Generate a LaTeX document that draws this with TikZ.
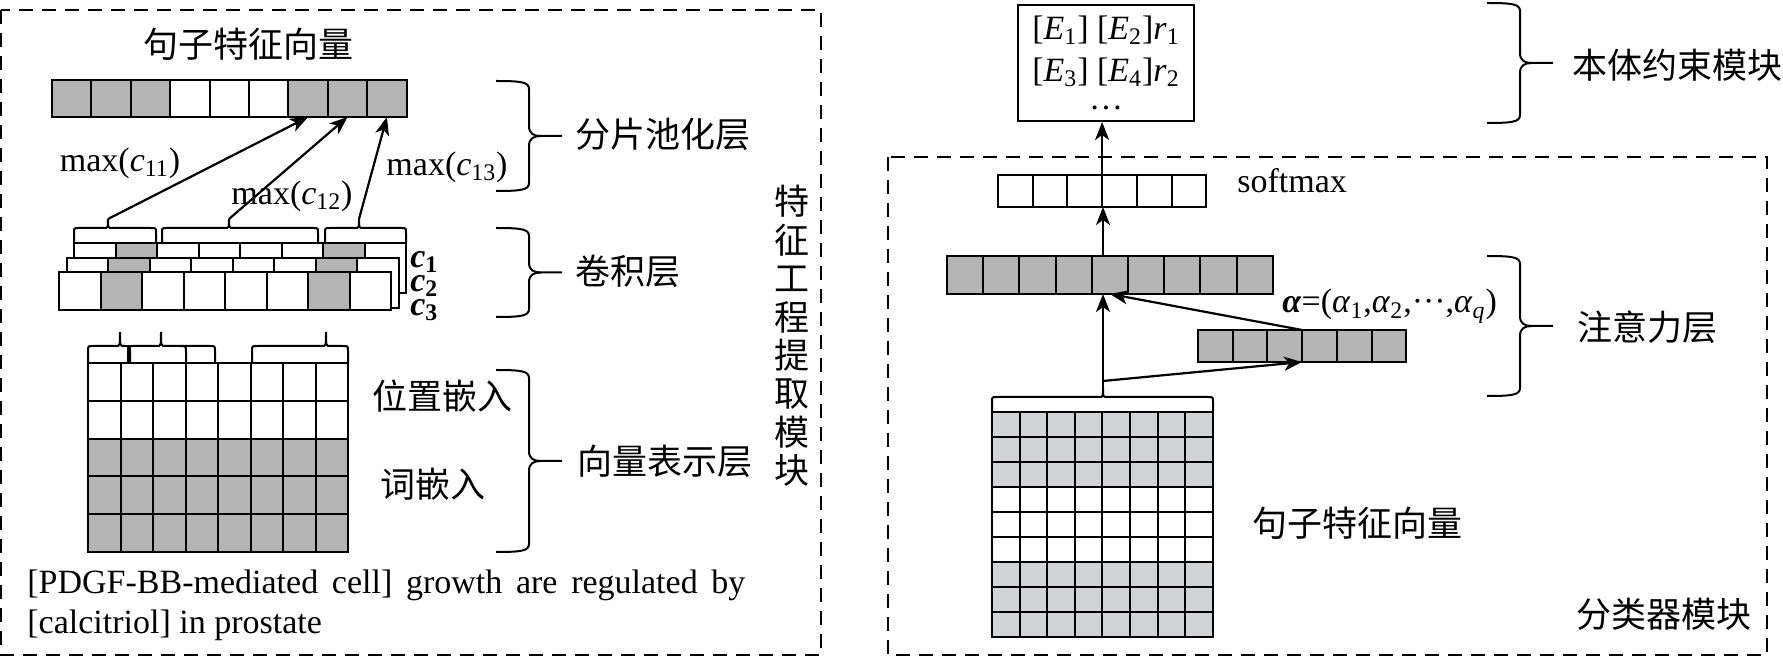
\documentclass[tikz,border=0pt]{standalone}
\usepackage{fontspec}
\setmainfont{Liberation Serif}
\newfontfamily\cjk{Noto Sans CJK SC}
\usetikzlibrary{arrows.meta,positioning}
\definecolor{barfill}{RGB}{180,180,180}
\definecolor{matfill}{RGB}{210,211,212}
\tikzset{font=\fontsize{17}{21}\selectfont}
\tikzset{cell/.style={draw, line width=1pt, inner sep=0pt, outer sep=0pt}}
\tikzset{cn/.style={font=\cjk\fontsize{17.5}{21.7}\selectfont, inner sep=0pt}}
\tikzset{arr/.style={line width=1.1pt, -{Stealth[length=9pt,width=7pt,inset=2.5pt]}}}
\tikzset{modbox/.style={draw, dash pattern=on 7pt off 4.5pt, line width=0.9pt}}

% brace lying flat: x1, x2, tip x, base y, flat y, tip y
\newcommand{\hbrace}[6]{%
  \draw[line width=1pt] (#1,#4) -- (#1,{#5+5}) .. controls (#1,#5) .. ({#1+5},#5)
    -- ({#3-4},#5) .. controls (#3,#5) .. (#3,#6) .. controls (#3,#5) .. ({#3+4},#5)
    -- ({#2-5},#5) .. controls (#2,#5) .. (#2,{#5+5}) -- (#2,#4);}
% brace standing up, opening left: x, top y, bottom y
\newcommand{\vbrace}[3]{%
  \pgfmathsetmacro\bmid{(#2+#3)/2}
  \draw[line width=1pt] (#1,#2) .. controls ({#1+25},#2) and ({#1+33},{#2+1}) .. ({#1+33},{#2+8})
    -- ({#1+33},{\bmid-10}) .. controls ({#1+33},{\bmid-2}) and ({#1+38},\bmid) .. ({#1+45},\bmid)
    -- ({#1+66},\bmid);
  \draw[line width=1pt] (#1,#3) .. controls ({#1+25},#3) and ({#1+33},{#3-1}) .. ({#1+33},{#3-8})
    -- ({#1+33},{\bmid+10}) .. controls ({#1+33},{\bmid+2}) and ({#1+38},\bmid) .. ({#1+45},\bmid);}

\begin{document}
\begin{tikzpicture}[x=0.5pt,y=-0.5pt]
\useasboundingbox (0,0) rectangle (1783,657);

% feature extraction module
\draw[modbox] (1,10) rectangle (821,655);
\node[cn] (title1) at (248,44) {句子特征向量};
\foreach \i/\c in {1/barfill,2/barfill,3/barfill,4/white,5/white,6/white,7/barfill,8/barfill,9/barfill}
\node[cell, fill=\c, minimum width=19.7pt, minimum height=18.5pt] (pool\i) at ({52+39.4*(\i-0.5)},98.5) {};

\foreach \k/\h in {1/25,2/25,3/19}
\foreach \i/\c in {1/white,2/barfill,3/white,4/white,5/white,6/white,7/barfill,8/white}
\node[cell, fill=\c, anchor=north west, minimum width=20.75pt, minimum height=\h pt] (conv\k\i) at ({74-7.4*(\k-1)+41.5*(\i-1)},{243+14.6*(\k-1)}) {};
\node[anchor=north west, inner sep=0pt, align=left, font=\fontsize{17}{12}\selectfont] (lc) at (410,251)
  {\textbf{\textit{c}\textsubscript{1}}\\\textbf{\textit{c}\textsubscript{2}}\\\textbf{\textit{c}\textsubscript{3}}};

\hbrace{74}{156}{108}{242}{228}{219}
\hbrace{162}{318}{229}{242}{228}{219}
\hbrace{325}{406}{359}{242}{228}{219}
\coordinate (pt1) at (108,219);
\coordinate (pt2) at (229,219);
\coordinate (pt3) at (359,219);
\draw[arr] (pt1) -- (pool7.south);
\draw[arr] (pt2) -- (pool8.south);
\draw[arr] (pt3) -- (pool9.south);
\node (max1) at (120,163) {max(\textit{c}\textsubscript{11})};
\node (max2) at (292,196) {max(\textit{c}\textsubscript{12})};
\node (max3) at (447,167) {max(\textit{c}\textsubscript{13})};

\foreach \r/\c in {1/white,2/white,3/barfill,4/barfill,5/barfill}
\foreach \i in {1,...,8}
\node[cell, fill=\c, anchor=north west, minimum width=16.25pt, minimum height=18.9pt] (emb\r\i) at ({88+32.5*(\i-1)},{363+37.8*(\r-1)}) {};
\hbrace{88}{130}{120}{363}{346}{332}
\hbrace{128}{215}{161}{363}{346}{332}
\draw[line width=1pt] (180,346) .. controls (186,346) .. (186,352) -- (186,363);
\hbrace{252}{348}{326}{363}{346}{332}
\node[cn, anchor=west] (lpos) at (372,396) {位置嵌入};
\node[cn, anchor=west] (lword) at (380,484) {词嵌入};

\node[anchor=base west, inner sep=0pt] (sent1) at (27,593) {\makebox[359pt][s]{[PDGF-BB-mediated cell] growth are regulated by}};
\node[anchor=base west, inner sep=0pt] (sent2) at (27,633) {[calcitriol] in prostate};

\vbrace{496}{81}{191}
\vbrace{496}{228}{317}
\vbrace{496}{370}{552}
\node[cn, anchor=west] (lpool) at (575,134) {分片池化层};
\node[cn, anchor=west] (lconv) at (575,271) {卷积层};
\node[cn, anchor=west] (lvec) at (577,461) {向量表示层};
\node[cn, align=center, font=\cjk\fontsize{17.5}{19.2}\selectfont] (lfeat) at (792,336) {特\\征\\工\\程\\提\\取\\模\\块};

% classifier module
\draw[modbox] (888,157) rectangle (1767,655);
\node[draw, line width=1pt, minimum width=88pt, minimum height=58pt, align=center, inner sep=0pt] (ent) at (1106,63)
  {[\textit{E}\textsubscript{1}] [\textit{E}\textsubscript{2}]\textit{r}\textsubscript{1}\\ {[}\textit{E}\textsubscript{3}] [\textit{E}\textsubscript{4}]\textit{r}\textsubscript{2}\\[-7pt] \dots};

\foreach \i in {1,...,6}
\node[cell, fill=white, anchor=north west, minimum width=17.35pt, minimum height=16pt] (soft\i) at ({998+34.7*(\i-1)},175) {};
\foreach \i in {1,...,9}
\node[cell, fill=barfill, anchor=north west, minimum width=18.1pt, minimum height=19pt] (att\i) at ({947+36.2*(\i-1)},256) {};
\foreach \i in {1,...,6}
\node[cell, fill=barfill, anchor=north west, minimum width=17.35pt, minimum height=16pt] (alpha\i) at ({1198+34.7*(\i-1)},330) {};

\foreach \r/\c in {1/matfill,2/matfill,3/matfill,4/white,5/white,6/white,7/matfill,8/matfill,9/matfill}
\foreach \i in {1,...,8}
\node[cell, fill=\c, anchor=north west, minimum width=13.8pt, minimum height=12.5pt] (mat\r\i) at ({992+27.6*(\i-1)},{412+25*(\r-1)}) {};
\hbrace{992}{1213}{1103}{411}{397}{388}

\coordinate (mtip) at (1103,388);
\coordinate (split) at (1103,381);
\draw[arr] (mtip) -- (mtip |- att5.south);
\draw[arr] (split) -- (alpha3.south east);
\draw[arr] (alpha3.north east) -- (att5.south);
\draw[arr] (mtip |- att5.north) -- (mtip |- soft3.south);
\draw[arr] (soft3.north east) -- (soft3.north east |- ent.south);

\node[anchor=base west, inner sep=0pt] (lsoft) at (1237,193) {softmax};
\node[anchor=base west, inner sep=0pt] (lalpha) at (1282,313) {\textbf{\textit{α}}=(\textit{α}\textsubscript{1},\textit{α}\textsubscript{2},···,\textit{α}\textsubscript{\textit{q}})};
\node[cn] (lsent) at (1357,523) {句子特征向量};
\node[cn] (lcls) at (1664,614) {分类器模块};

\vbrace{1487}{3}{123}
\vbrace{1487}{256}{396}
\node[cn, anchor=west] (lont) at (1572,65) {本体约束模块};
\node[cn, anchor=west] (latt) at (1577,327) {注意力层};
\end{tikzpicture}
\end{document}
